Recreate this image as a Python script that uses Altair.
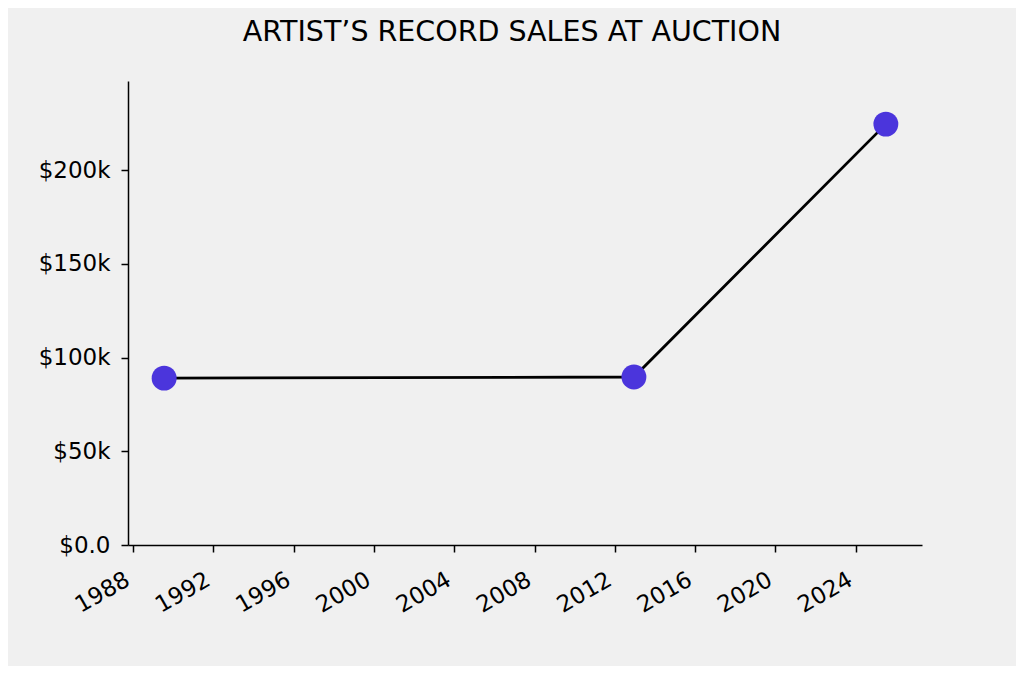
import altair as alt
import pandas as pd

years = [1989.55, 2012.95, 2025.5]
sales = [89000, 89600, 224500]
x_ticks = [1988, 1992, 1996, 2000, 2004, 2008, 2012, 2016, 2020, 2024]
y_ticks = [0, 50000, 100000, 150000, 200000]

df = pd.DataFrame({"year": years, "sales": sales})

x_enc = alt.X("year:Q", scale=alt.Scale(domain=[1987.75, 2027.3], nice=False, zero=False),
              axis=alt.Axis(values=x_ticks, format="d", labelAngle=-30, labelAlign="right",
                            labelBaseline="top", title=None, grid=False, domainColor="black",
                            tickColor="black", labelColor="black", labelFontSize=23,
                            labelFont="DejaVu Sans", tickSize=7, domainWidth=1.5, tickWidth=1.5,
                            labelPadding=16, labelOffset=-11, labelFlush=False, labelOverlap=False))
y_enc = alt.Y("sales:Q", scale=alt.Scale(domain=[0, 247500], nice=False),
              axis=alt.Axis(values=y_ticks, labelExpr="datum.value == 0 ? '$0.0' : '$' + format(datum.value/1000, 'd') + 'k'",
                            title=None, grid=False, domainColor="black", tickColor="black",
                            labelColor="black", labelFontSize=23, labelFont="DejaVu Sans",
                            tickSize=7, domainWidth=1.5, tickWidth=1.5, labelPadding=11))

line = alt.Chart(df).mark_line(color="black", strokeWidth=2.8).encode(x=x_enc, y=y_enc)
pts = alt.Chart(df).mark_circle(color="#4B35DC", opacity=1, size=620).encode(x="year:Q", y="sales:Q")

chart = (line + pts).properties(
    width=794, height=464,
    background="#f0f0f0",
    padding={"left": 120, "top": 73, "right": 94, "bottom": 121},
    autosize=alt.AutoSizeParams(type="none"),
    title=alt.TitleParams("ARTIST’S RECORD SALES AT AUCTION", font="DejaVu Sans", fontSize=28.5,
                          fontWeight="normal", color="black", anchor="middle", dx=-13, offset=35),
).configure_view(stroke=None)

chart.save("out.html", embed_options={"renderer": "svg", "actions": False})
